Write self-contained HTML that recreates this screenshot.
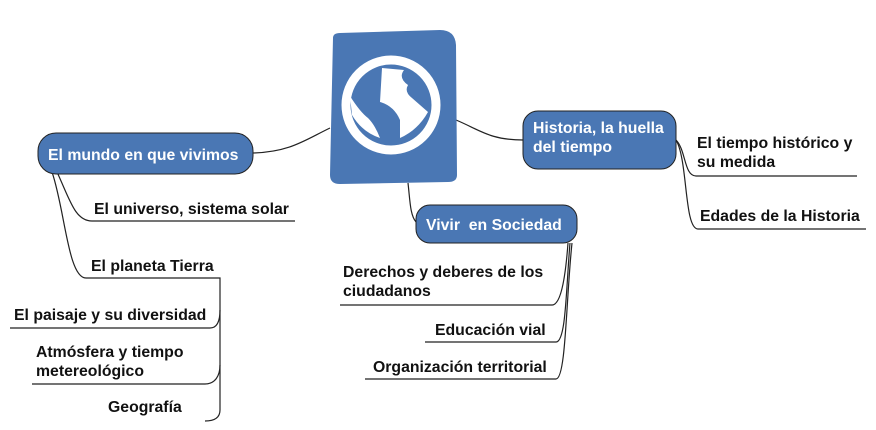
<!DOCTYPE html>
<html><head><meta charset="utf-8"><style>
html,body{margin:0;padding:0;background:#fff;}
svg{display:block}
text{font-family:"Liberation Sans",Arial,sans-serif;font-weight:bold;font-size:15.8px;fill:#111}
.w{fill:#fff}
</style></head><body>
<svg width="876" height="430" viewBox="0 0 876 430" xmlns="http://www.w3.org/2000/svg">
<g fill="none" stroke="#222" stroke-width="1.2">
<path d="M253,153 C290,152 305,140 330,128"/>
<path d="M456,120 C480,130 490,140 523,140"/>
<path d="M408,183 C410,200 410,215 416,222"/>
<path d="M57,172 C70,200 75,221 92,221 L295,221"/>
<path d="M52,172 C65,210 68,278 86,278 L220,278 L220,410 C220,418 214,421 205,421"/>
<path d="M10,328 L210,328 C218,328 220,320 220,310"/>
<path d="M32,384 L205,384 C215,384 220,376 220,365"/>
<path d="M676,140 C686,150 684,176 696,176 L857,176"/>
<path d="M676,140 C688,160 684,229 698,229 L866,229"/>
<path d="M568,243 C566,270 562,305 552,305 L340,305"/>
<path d="M570,243 C566,290 566,342 556,342 L425,342"/>
<path d="M572,243 C566,300 566,379 556,379 L365,379"/>
</g>
<path d="M333,38 Q333,33 340,33 L440,30 Q455,30 456,45 L457,175 Q457,182 448,182 L340,184 Q330,184 330,175 Z" fill="#4a77b4"/>
<circle cx="391" cy="105" r="45" fill="none" stroke="#fff" stroke-width="9"/>
<path d="M382,68 L404,70 Q398,78 408,85 Q404,92 412,98 Q420,105 428,112 Q418,130 400,138 L400,120 Q394,106 380,102 Z" fill="#fff"/>
<path d="M350,96 Q360,112 368,118 Q375,125 380,138 Q362,132 352,115 Z" fill="#fff"/>
<rect x="38" y="133" width="215" height="41" rx="18" fill="#4a77b4" stroke="#222" stroke-width="1"/>
<text class="w" x="48" y="160">El mundo en que vivimos</text>
<rect x="523" y="111" width="153" height="58" rx="15" fill="#4a77b4" stroke="#222" stroke-width="1"/>
<text class="w" x="533" y="133">Historia, la huella</text>
<text class="w" x="533" y="152">del tiempo</text>
<rect x="416" y="205" width="161" height="38" rx="14" fill="#4a77b4" stroke="#222" stroke-width="1"/>
<text class="w" x="426" y="230">Vivir&#160; en Sociedad</text>
<text x="94" y="214">El universo, sistema solar</text>
<text x="91" y="271">El planeta Tierra</text>
<text x="14" y="320">El paisaje y su diversidad</text>
<text x="36" y="357">Atmósfera y tiempo</text>
<text x="36" y="376">metereológico</text>
<text x="108" y="412">Geografía</text>
<text x="697" y="148">El tiempo histórico y</text>
<text x="697" y="167">su medida</text>
<text x="700" y="221">Edades de la Historia</text>
<text x="343" y="277">Derechos y deberes de los</text>
<text x="343" y="296">ciudadanos</text>
<text x="435" y="335">Educación vial</text>
<text x="373" y="372">Organización territorial</text>
</svg>
</body></html>
